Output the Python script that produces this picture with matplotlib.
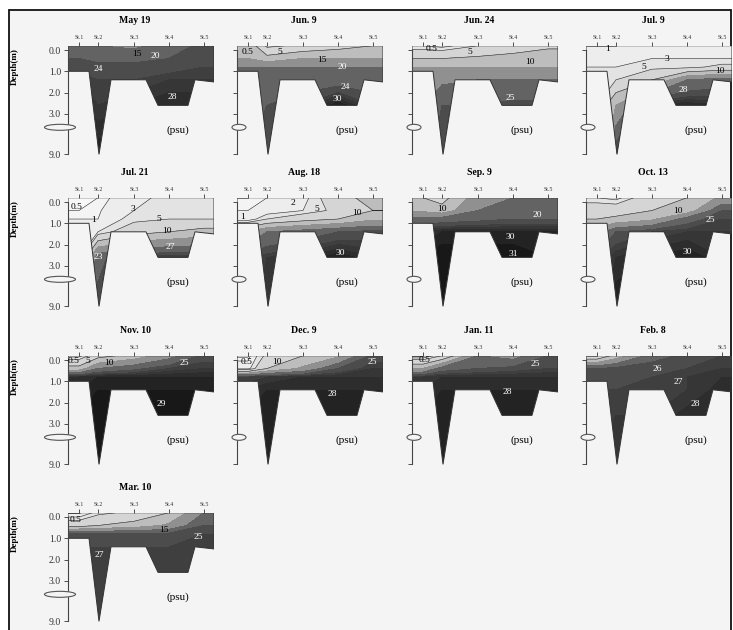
import numpy as np
import matplotlib
matplotlib.use("Agg")
import matplotlib.pyplot as plt
from matplotlib.patches import Polygon, Ellipse, Rectangle

plt.rcParams['font.family'] = ['Liberation Serif', 'DejaVu Serif']

# survey dates (one panel each)
titles = ["May 19", "Jun. 9", "Jun. 24", "Jul. 9", "Jul. 21", "Aug. 18",
          "Sep. 9", "Oct. 13", "Nov. 10", "Dec. 9", "Jan. 11", "Feb. 8",
          "Mar. 10"]

station_names = ["St.1", "St.2", "St.3", "St.4", "St.5"]
station_x = [1.1, 3.0, 6.6, 10.1, 13.6]
section_width = 14.6

# sampling depths (m) of the salinity grid
depths = [0.0, 0.4, 0.8, 1.4, 2.6, 9.0]

# bottom profile of the section (distance, depth m)
bottom_x = [0.0, 2.1, 3.1, 4.3, 7.8, 9.0, 12.0, 12.7, 14.6]
bottom_d = [1.0, 1.0, 9.0, 1.4, 1.4, 2.6, 2.6, 1.4, 1.5]

# salinity (psu), rows = depths, columns = St.1 .. St.5
sal_may19 = [[24, 20, 19, 22, 25], [24, 23, 23, 24, 25], [25, 25, 25, 25, 26],
             [27, 26, 26, 27, 27], [28, 27, 28, 29, 29], [29, 30, 29, 29, 29]]
sal_jun9 = [[14, 4, 6, 8, 10], [15, 12, 15, 15, 15], [20, 20, 20, 20, 20],
            [21, 22, 22, 22, 22], [22, 24, 26, 30, 26], [24, 25, 26, 31, 26]]
sal_jun24 = [[3, 2, 5, 7, 9], [10, 10, 11, 12, 13], [15, 15, 15, 15, 15],
             [18, 19, 20, 20, 20], [20, 24, 24, 25, 25], [22, 26, 25, 26, 25]]
sal_jul9 = [[1, 1, 2, 2, 2], [2, 2, 3, 3, 3], [3, 3, 4, 4, 6],
            [4, 5, 10, 20, 22], [5, 15, 28, 29, 28], [6, 27, 28, 29, 28]]
sal_jul21 = [[0.3, 0.5, 2, 4, 4], [0.5, 0.8, 3, 4, 4.5], [1, 1, 4, 5, 5],
             [2, 3, 8, 10, 12], [3, 23, 27, 27, 27], [4, 25, 28, 28, 28]]
sal_aug18 = [[0.5, 1, 2, 8, 12], [1, 1.5, 3, 6, 10], [1.5, 5, 8, 10, 14],
             [15, 20, 22, 24, 25], [25, 27, 28, 30, 28], [26, 28, 29, 30, 29]]
sal_sep9 = [[10, 8, 18, 20, 20], [14, 12, 20, 21, 21], [21, 22, 23, 24, 24],
            [28, 29, 29, 29, 29], [30, 31, 31, 31, 30], [31, 32, 31, 31, 31]]
sal_oct13 = [[3, 2, 8, 10, 16], [8, 8, 10, 12, 24], [10, 11, 14, 22, 26],
             [18, 24, 26, 27, 27], [25, 28, 29, 30, 28], [26, 30, 30, 30, 30]]
sal_nov10 = [[2, 8, 12, 18, 25], [12, 20, 23, 26, 27], [28, 29, 29, 29, 29],
             [29, 30, 30, 30, 30], [30, 31, 31, 31, 31], [30, 31, 31, 31, 31]]
sal_dec9 = [[0.3, 6, 10, 14, 25], [2, 10, 16, 24, 27], [26, 27, 28, 28, 28],
            [28, 29, 29, 29, 29], [29, 30, 30, 30, 30], [29, 30, 30, 30, 30]]
sal_jan11 = [[0.5, 5, 20, 18, 24], [15, 22, 24, 25, 26], [27, 28, 28, 28, 28],
             [28, 29, 29, 29, 29], [29, 30, 30, 30, 30], [29, 30, 30, 30, 30]]
sal_feb8 = [[5, 12, 22, 25, 26], [24, 25, 26, 26, 27], [25, 26, 26, 27, 28],
            [26, 26, 27, 27, 28.5], [27, 27, 27, 28.5, 29], [27, 27.5, 28, 29, 29]]
sal_mar10 = [[0.5, 4, 6, 10, 20], [8, 10, 12, 16, 24], [25, 25, 25, 25, 26],
             [26, 26, 26, 26, 27], [27, 27, 27, 27, 27], [27, 27, 27, 27, 27]]

# isohaline labels (text, distance, depth m)
lab_may19 = [("15", 6.9, 0.2), ("20", 8.7, 0.3), ("24", 3.0, 0.9), ("28", 10.4, 2.2)]
lab_jun9 = [("0.5", 1.1, 0.1), ("5", 4.3, 0.1), ("15", 8.5, 0.45), ("20", 10.5, 0.8),
            ("24", 10.8, 1.75), ("30", 10.0, 2.3)]
lab_jun24 = [("0.5", 2.0, -0.05), ("5", 5.8, 0.1), ("10", 11.8, 0.55), ("25", 9.8, 2.25)]
lab_jul9 = [("1", 2.2, -0.05), ("3", 8.1, 0.4), ("5", 5.8, 0.8), ("10", 13.4, 1.0),
            ("28", 9.7, 1.9)]
lab_jul21 = [("0.5", 0.9, 0.25), ("1", 2.6, 0.85), ("3", 6.5, 0.35), ("5", 9.1, 0.8),
             ("10", 9.9, 1.35), ("27", 10.2, 2.1), ("23", 3.0, 2.6)]
lab_aug18 = [("1", 0.6, 0.7), ("2", 5.6, 0.05), ("5", 8.0, 0.35), ("10", 12.0, 0.5),
             ("30", 10.3, 2.4)]
lab_sep9 = [("10", 3.0, 0.35), ("20", 12.5, 0.6), ("30", 9.8, 1.65), ("31", 10.1, 2.45)]
lab_oct13 = [("10", 9.2, 0.4), ("25", 12.4, 0.85), ("30", 10.1, 2.35)]
lab_nov10 = [("0.5", 0.6, 0.05), ("5", 2.0, 0.05), ("10", 4.1, 0.15), ("25", 11.6, 0.15),
             ("29", 9.3, 2.05)]
lab_dec9 = [("0.5", 1.0, 0.1), ("10", 4.0, 0.1), ("25", 13.5, 0.1), ("28", 9.5, 1.6)]
lab_jan11 = [("0.5", 1.3, 0.0), ("25", 12.3, 0.2), ("28", 9.5, 1.5)]
lab_feb8 = [("26", 7.1, 0.4), ("27", 9.2, 1.05), ("28", 10.9, 2.05)]
lab_mar10 = [("0.5", 0.8, 0.15), ("15", 9.6, 0.6), ("25", 13.0, 0.95), ("27", 3.1, 1.8)]

salinity = [sal_may19, sal_jun9, sal_jun24, sal_jul9, sal_jul21, sal_aug18, sal_sep9,
            sal_oct13, sal_nov10, sal_dec9, sal_jan11, sal_feb8, sal_mar10]
labels = [lab_may19, lab_jun9, lab_jun24, lab_jul9, lab_jul21, lab_aug18, lab_sep9,
          lab_oct13, lab_nov10, lab_dec9, lab_jan11, lab_feb8, lab_mar10]

# grey shading scale
levels = [0, 0.5, 1, 3, 5, 10, 15, 20, 24, 26, 27, 28, 29, 30, 33]
shade_s = [0, 1, 3, 5, 10, 15, 20, 24, 27, 30, 33]
shade_g = [0.98, 0.95, 0.91, 0.87, 0.8, 0.68, 0.45, 0.33, 0.23, 0.12, 0.07]
fill_colors = [str(np.interp((a + b) / 2, shade_s, shade_g))
               for a, b in zip(levels[:-1], levels[1:])]
line_levels = [0.5, 1, 3, 5, 10]


def plot_y(d):
    # depth axis is broken between 3 m and 9 m
    d = np.asarray(d, dtype=float)
    return np.where(d <= 3, d, 3 + (d - 3) * 1.9 / 6)


W, H = 733, 630
fig = plt.figure(figsize=(W / 100, H / 100), dpi=100, facecolor='white')
fig.add_artist(Rectangle((9 / W, -0.05), 722 / W, 1 - 10 / H + 0.05,
                         transform=fig.transFigure, fc='#f4f4f4', ec='#111111',
                         lw=1.3, zorder=-5))

col_x = [68, 237, 412, 586]
row_y = [50, 202, 360, 517]
px_per_m = 21.3
top_m, bot_m = -0.2, 5.0

gx = np.array([0.0] + station_x + [section_width])
gy = plot_y(depths)
gy[0] = top_m
GX, GY = np.meshgrid(gx, gy)

outline = [(0, top_m)] + list(zip(bottom_x, plot_y(bottom_d))) + [(section_width, top_m)]

for i, title in enumerate(titles):
    r, c = divmod(i, 4)
    x0, y0 = col_x[c], row_y[r]
    ax_top = y0 + top_m * px_per_m
    ax_h = (bot_m - top_m) * px_per_m
    ax = fig.add_axes([x0 / W, 1 - (ax_top + ax_h) / H, section_width * 10 / W, ax_h / H])
    ax.set_facecolor('none')
    ax.set_xlim(0, section_width)
    ax.set_ylim(bot_m, top_m)

    s = np.array(salinity[i], dtype=float)
    s = np.column_stack([s[:, 0], s, s[:, -1]])

    clip = Polygon(outline, closed=True, transform=ax.transData)
    cf = ax.contourf(GX, GY, s, levels=levels, colors=fill_colors)
    cf.set_clip_path(clip)
    cl = ax.contour(GX, GY, s, levels=line_levels, colors='#2a2a2a', linewidths=0.4)
    cl.set_clip_path(clip)
    ax.add_patch(Polygon(outline, closed=True, fill=False, ec='#333333', lw=0.7))

    for txt, lx, ld in labels[i]:
        col = 'white' if float(txt) >= 20 else 'black'
        ax.text(lx, float(plot_y(ld)), txt, fontsize=6.8, color=col,
                ha='center', va='center')

    ax.text(11.0, 3.75, "(psu)", fontsize=8, ha='center', va='center')
    ax.annotate(title, xy=(0.46, 1), xycoords='axes fraction', xytext=(0, 18),
                textcoords='offset points', ha='center', va='center',
                fontsize=7, fontweight='bold')

    for sp in ['top', 'right', 'bottom']:
        ax.spines[sp].set_visible(False)
    ax.spines['left'].set_bounds(0, float(plot_y(9.0)))
    ax.spines['left'].set_color('#444444')
    ax.spines['left'].set_linewidth(0.8)

    ax.set_xticks(station_x)
    ax.set_xticklabels(station_names)
    ax.xaxis.tick_top()
    ax.tick_params(axis='x', length=3, width=0.6, pad=1, labelsize=4.2, colors='#333333')
    ax.set_yticks(plot_y([0, 1, 2, 3, 9]))
    if c == 0:
        ax.set_yticklabels(['0.0', '1.0', '2.0', '3.0', '9.0'])
    else:
        ax.set_yticklabels([])
    ax.tick_params(axis='y', length=3, width=0.6, pad=2, labelsize=7, colors='#333333')

    # axis break mark
    brk_y = y0 + 3.63 * px_per_m
    if c == 0:
        bx, bw = x0 - 8, 31
        fig.text(15 / W, 1 - (y0 + 17) / H, "Depth(m)", rotation=90, fontsize=6.5,
                 fontweight='bold', ha='center', va='center')
    else:
        bx, bw = x0 + 2, 14
    fig.add_artist(Ellipse((bx / W, 1 - brk_y / H), bw / W, 6 / H,
                           transform=fig.transFigure, fc='#f4f4f4', ec='#555555',
                           lw=0.8))

fig.savefig('out.png', dpi=100, facecolor=fig.get_facecolor())
